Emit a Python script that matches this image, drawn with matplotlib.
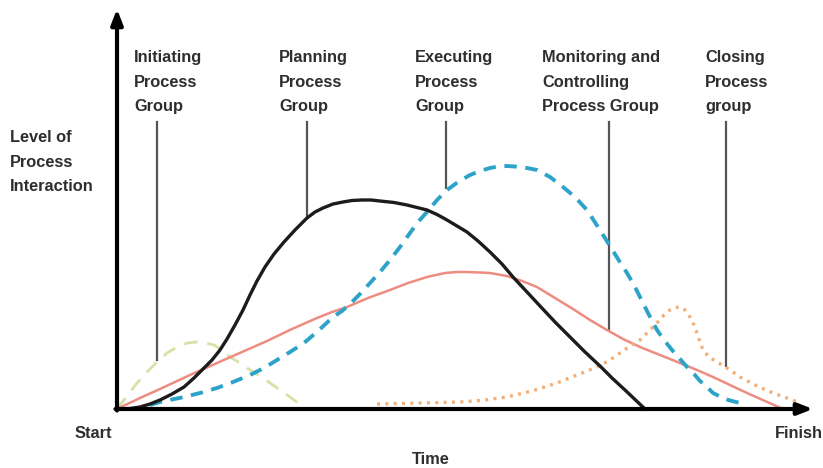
import matplotlib
matplotlib.use("Agg")
import matplotlib.pyplot as plt

# Values (arbitrary units: time from Start, level of interaction)
initiating_t = [0, 10, 20, 30, 40, 50, 60, 70, 80, 89, 97, 105, 113, 123, 133, 143,
                153, 163, 173, 181, 188]
initiating_l = [0, 13, 26, 37, 47, 56, 62, 66, 67, 66, 64, 59, 52, 46, 39, 33,
                26, 19, 12, 6, 0]

planning_t = [3, 13, 23, 33, 43, 55, 67, 77, 87, 95, 103, 110, 118, 126, 133, 140,
              148, 157, 167, 178, 190, 198, 206, 216, 226, 235, 245, 254, 263, 277,
              290, 300, 310, 320, 330, 340, 350, 361, 373, 385, 396, 410, 423, 438,
              453, 468, 483, 495, 508, 518, 528]
planning_l = [0, 0.5, 2, 5, 9, 15, 22, 31, 41, 49, 59, 70, 84, 99, 114, 128,
              142, 155, 167, 179, 191, 197, 201, 205, 207, 208.5, 209, 209, 208, 206.5,
              204, 201.5, 199, 194.5, 189, 183, 177, 168, 157, 145, 132, 117, 103, 87,
              72, 57, 43, 31, 19, 9.5, 0]

executing_t = [33, 43, 55, 67, 83, 100, 116, 133, 147, 160, 173, 187, 201, 216, 225,
               233, 243, 253, 263, 273, 283, 293, 301, 310, 320, 330, 341, 353, 363,
               373, 381, 390, 405, 420, 433, 446, 458, 470, 481, 493, 501, 510, 517,
               523, 531, 540, 547, 555, 563, 570, 577, 583, 590, 596, 602, 608, 615, 623]
executing_l = [4, 7, 9.5, 12, 16, 21, 27, 34, 41, 49, 57, 66, 78, 92, 98,
               105, 115, 126, 137, 149, 162, 176, 187, 197, 209, 219, 227, 234, 238,
               241, 242.5, 243, 242, 239, 232, 222, 212, 199, 182, 163, 150, 136, 124,
               112, 96, 79, 69, 59, 50, 42, 35, 28, 22, 16, 13, 10, 8, 6]

monitoring_t = [0, 23, 43, 73, 100, 125, 150, 175, 200, 215, 230, 251, 273, 291, 310,
                328, 340, 350, 363, 373, 390, 405, 420, 438, 456, 473, 490, 506, 523,
                543, 563, 580, 596, 613, 630, 648, 666]
monitoring_l = [0, 11, 20, 34, 46, 57, 68, 80, 91, 97, 102, 111, 119, 126, 132,
                136, 137, 137, 136.5, 136, 133, 128, 122, 111, 100, 89, 79, 70, 62,
                54, 46, 39, 32, 24, 16, 8, 0]

closing_t = [260, 283, 303, 323, 343, 368, 390, 415, 440, 460, 480, 493, 503, 513,
             523, 531, 540, 547, 553, 558, 563, 568, 573, 577, 580, 583, 586, 592,
             600, 610, 623, 640, 656, 670, 683]
closing_l = [5, 5.5, 6, 6.5, 7, 9, 12, 18, 26, 34, 42, 49, 56, 63,
             69, 77, 86, 94, 99, 101.5, 102, 99, 92, 84, 76, 67, 59, 52,
             47, 41, 32, 23, 16, 11, 6]

labels = ["Initiating\nProcess\nGroup", "Planning\nProcess\nGroup",
          "Executing\nProcess\nGroup", "Monitoring and\nControlling\nProcess Group",
          "Closing\nProcess\ngroup"]
label_x = [17, 162, 298, 425, 588]
leader_x = [40, 190, 329, 492, 609]
leader_end = [49, 191, 221, 79, 43]

fig = plt.figure(figsize=(8.23, 4.68), dpi=100)
ax = fig.add_axes([0, 0, 1, 1])
ax.set_xlim(-117, 706)
ax.set_ylim(-59, 409)
ax.axis("off")

font = dict(family=["Liberation Sans", "DejaVu Sans"],
            fontweight="bold", fontsize=11.8, color="#2e2e2e")

# curves
ax.plot(initiating_t, initiating_l, color="#d6e2a6", lw=2.0, ls=(0, (5, 3.5)),
        dash_capstyle="butt", zorder=3)
ax.plot(monitoring_t, monitoring_l, color="#ee8c82", lw=1.8, zorder=3)
ax.plot(closing_t, closing_l, color="#f1b07a", lw=2.4, ls=(0, (0.9, 1.6)), zorder=3)
ax.plot(executing_t, executing_l, color="#2ea3c9", lw=2.8, ls=(0, (3.2, 2.2)),
        dash_capstyle="butt", zorder=4)
ax.plot(planning_t, planning_l, color="#1c1c1c", lw=2.4, zorder=5)

# leader lines and labels
for lx, px, pe, txt in zip(label_x, leader_x, leader_end, labels):
    ax.plot([px, px], [pe, 287], color="#555555", lw=1.6, zorder=2)
    ax.text(lx, 359, txt, ha="left", va="top", linespacing=1.8, **font)

# axes with arrows
ax.annotate("", xy=(0, 400), xytext=(0, -1.5),
            arrowprops=dict(arrowstyle="-|>,head_length=0.9,head_width=0.35",
                            lw=3, color="black", shrinkA=0, shrinkB=0), zorder=6)
ax.annotate("", xy=(696, 0), xytext=(-1.5, 0),
            arrowprops=dict(arrowstyle="-|>,head_length=0.9,head_width=0.35",
                            lw=3, color="black", shrinkA=0, shrinkB=0), zorder=6)

ax.text(-107, 279, "Level of\nProcess\nInteraction", ha="left", va="top",
        linespacing=1.8, **font)
ax.text(-42, -25, "Start", ha="left", va="center", **font)
ax.text(658, -24, "Finish", ha="left", va="center", **font)
ax.text(314, -50, "Time", ha="center", va="center", **font)

fig.savefig("out.png", dpi=100)
